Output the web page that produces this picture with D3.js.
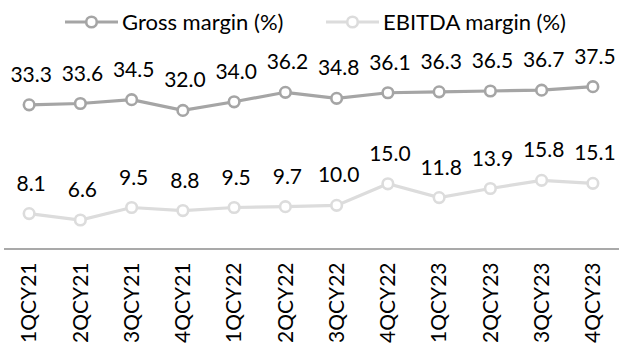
<!DOCTYPE html>
<html><head><meta charset="utf-8">
<script src="https://cdn.jsdelivr.net/npm/d3@7"></script>
<style>body{margin:0;background:#fff}svg{display:block}</style>
</head><body>
<script>
const categories = ["1QCY21","2QCY21","3QCY21","4QCY21","1QCY22","2QCY22","3QCY22","4QCY22","1QCY23","2QCY23","3QCY23","4QCY23"];
const grossMargin = [33.3,33.6,34.5,32.0,34.0,36.2,34.8,36.1,36.3,36.5,36.7,37.5];
const ebitdaMargin = [8.1,6.6,9.5,8.8,9.5,9.7,10.0,15.0,11.8,13.9,15.8,15.1];
const seriesNames = ["Gross margin (%)","EBITDA margin (%)"];
const colors = ["#a5a5a5","#dcdcdc"];

const W = 619, H = 347;
const font = "Lato, 'Noto Sans', sans-serif";
const svg = d3.select("body").append("svg").attr("width", W).attr("height", H);

const x = d3.scaleBand().domain(categories).range([3.5, 618.5]).padding(0);
const y = d3.scaleLinear().domain([0, 40]).range([248.5, 75.9]);
const cx = c => x(c) + x.bandwidth() / 2;

// axis
const axisG = svg.append("g").attr("transform", `translate(0,${y(0)})`)
  .call(d3.axisBottom(x).tickSize(0).tickPadding(0));
axisG.select(".domain").attr("stroke", "#8c8c8c").attr("stroke-width", 1.3);
axisG.selectAll(".tick text")
  .attr("transform", "rotate(-90)")
  .attr("text-anchor", "end")
  .attr("x", -14).attr("y", 0).attr("dy", "0.35em")
  .attr("font-family", font).attr("font-size", 21).attr("fill", "#000");

const series = [grossMargin, ebitdaMargin];
series.forEach((vals, si) => {
  const data = categories.map((c, i) => ({c, v: vals[i]}));
  const line = d3.line().x(d => cx(d.c)).y(d => y(d.v));
  svg.append("path").datum(data).attr("d", line)
    .attr("fill", "none").attr("stroke", colors[si]).attr("stroke-width", 3.2);
  svg.append("g").selectAll("circle").data(data).join("circle")
    .attr("cx", d => cx(d.c)).attr("cy", d => y(d.v)).attr("r", 5.3)
    .attr("fill", "#fff").attr("stroke", colors[si]).attr("stroke-width", 2.6);
  svg.append("g").selectAll("text").data(data).join("text")
    .attr("x", d => cx(d.c) + 2).attr("y", d => y(d.v) - 23)
    .attr("text-anchor", "middle")
    .attr("font-family", font).attr("font-size", 21).attr("fill", "#000")
    .text(d => d.v.toFixed(1));
});

// legend
const legendX = [65, 326];
seriesNames.forEach((name, si) => {
  const g = svg.append("g").attr("transform", `translate(${legendX[si]},22)`);
  g.append("line").attr("x1", 0).attr("x2", 53).attr("y1", 0).attr("y2", 0)
    .attr("stroke", colors[si]).attr("stroke-width", 3.2);
  g.append("circle").attr("cx", 26.5).attr("cy", 0).attr("r", 5.3)
    .attr("fill", "#fff").attr("stroke", colors[si]).attr("stroke-width", 2.6);
  g.append("text").attr("x", 57).attr("y", 0).attr("dy", "0.35em")
    .attr("font-family", font).attr("font-size", 22).attr("fill", "#000")
    .text(name);
});
</script>
</body></html>
